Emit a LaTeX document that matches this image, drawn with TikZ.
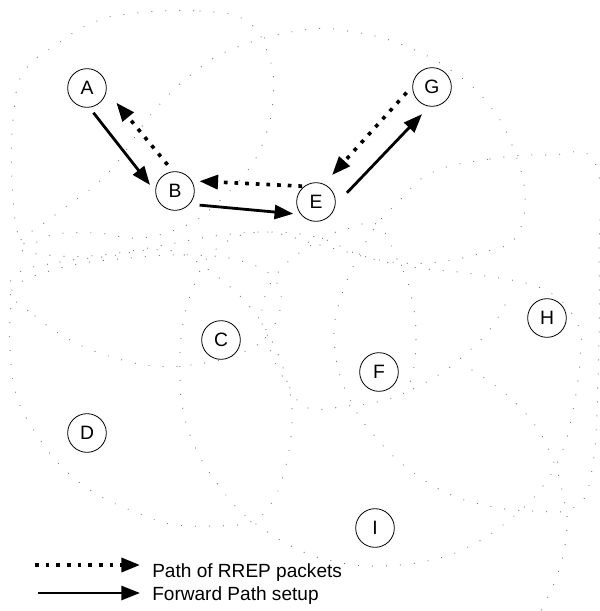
\documentclass[tikz,border=0pt]{standalone}
\usepackage{fontspec}
\setmainfont{Liberation Sans}
\usetikzlibrary{arrows.meta}
\tikzset{
    station/.style={circle, draw, line width=0.6pt, minimum size=29pt,
    	inner sep=0pt, font=\fontsize{14.5}{16}\selectfont}
}
\tikzset{
    fwd/.style={line width=2.1pt, -{Triangle[length=14pt,width=10.5pt]}},
    rrep/.style={line width=2.7pt, dash pattern=on 2.8pt off 5.2pt,
    	-{Triangle[length=14pt,width=10.5pt]}}
}
\tikzset{
	radiorange/.style={black!55, line width=0.9pt, line cap=round,
		dash pattern=on 0pt off 10.5pt},
	keytext/.style={anchor=base west, inner sep=0pt,
		font=\fontsize{14.3}{16}\selectfont}
}

\begin{document}
\begin{tikzpicture}[x=0.75pt, y=-0.75pt]
	\useasboundingbox (0,0) rectangle (600,611);
	% radio ranges
	\begin{scope}
	\clip (0,0) rectangle (600,611);
	\draw[radiorange] plot[smooth cycle, tension=0.7] coordinates {(127,14) (200,11)
		(248,22) (270,60) (273,100) (265,137) (248,170) (215,205) (185,226)
		(140,238) (97,233) (55,234) (22,242) (12,180) (14,110) (25,70) (60,42)
		(90,24)};
	\draw[radiorange] plot[smooth cycle, tension=0.7] coordinates {(18,246) (55,215)
		(108,173) (153,112) (197,70) (240,46) (303,30) (348,31) (403,45) (455,73)
		(490,106) (512,145) (525,195) (516,237) (488,251) (445,261) (403,263)
		(360,255) (320,238) (270,232) (215,236) (165,245) (110,254) (60,256)};
	\draw[radiorange] plot[smooth cycle, tension=0.7] coordinates {(15,275) (60,262)
		(110,256) (150,250) (182,254) (218,277) (250,307) (273,343) (288,385)
		(292,420) (286,465) (272,502) (250,522) (210,526) (170,524) (138,513)
		(98,495) (63,468) (37,435) (17,397) (10,350) (11,305)};
	\draw[radiorange] plot[smooth cycle, tension=0.7] coordinates {(12,290) (35,316)
		(72,341) (112,357) (155,366) (198,364) (235,355) (263,340) (280,310)
		(275,280) (245,262) (195,255) (130,258) (60,268)};
	\draw[radiorange] plot[smooth cycle, tension=0.7] coordinates {(260,232) (320,245)
		(400,265) (480,275) (545,290) (577,323) (580,360) (573,410) (562,452)
		(540,490) (508,521) (472,545) (432,560) (380,566) (337,562) (295,548)
		(247,517) (217,483) (195,447) (183,410) (180,373) (182,330) (193,288)
		(215,250)};
	\draw[radiorange] plot[smooth cycle, tension=0.7] coordinates {(433,172) (490,159)
		(548,155) (595,163) (599,260) (598,380) (592,470) (575,507) (532,511)
		(488,506) (447,493) (410,470) (378,440) (350,400) (335,350) (340,300)
		(370,235) (400,200)};
	\draw[radiorange] plot[smooth cycle, tension=0.7] coordinates {(378,225) (397,259)
		(410,290) (416,340) (408,387) (385,400) (348,406) (308,408) (288,385)
		(270,350) (262,310) (280,270) (320,240) (350,228)};
	\draw[radiorange] plot[smooth, tension=0.7] coordinates {(505,305) (487,333)
		(455,363) (430,380) (405,393)};
	\draw[radiorange] plot[smooth, tension=0.7] coordinates {(472,370) (507,395)
		(537,428) (555,465) (563,495) (567,525) (560,567) (543,607) (535,620)};
	\end{scope}

	\node (A) [station, fill=white] at (87,88) {A};
	\node (B) [station, fill=white] at (175,191) {B};
	\node (E) [station, fill=white] at (316,202) {E};
	\node (G) [station, fill=white] at (432,87) {G};
	\node (C) [station, fill=white] at (221,340) {C};
	\node (F) [station, fill=white] at (379,372) {F};
	\node (H) [station, fill=white] at (547,318) {H};
	\node (D) [station, fill=white] at (87,433) {D};
	\node (I) [station, fill=white] at (375,528) {I};

	\draw (A.-83) edge [fwd, shorten <=4.9pt, shorten >=6.4pt] (B.182);
	\draw (B.-42) edge [fwd, shorten <=7.5pt, shorten >=5.6pt] (E.219);
	\draw (E.-8) edge [fwd, shorten <=12.4pt, shorten >=7.9pt] (G.262);
	\draw (G.178) edge [rrep, shorten <=6.4pt, shorten >=9pt] (E.66);
	\draw (E.127) edge [rrep, shorten <=1.5pt, shorten >=5.6pt] (B.31);
	\draw (B.96) edge [rrep, shorten <=6.4pt, shorten >=11.6pt] (A.-8);

	% key
	\coordinate (k1s) at (35,565); \coordinate (k1e) at (140,565);
	\coordinate (k2s) at (38,593); \coordinate (k2e) at (140,593);
	\draw (k1s) edge [rrep] (k1e);
	\draw (k2s) edge [fwd] (k2e);
	\node (k1) [keytext] at (152,577) {Path of RREP packets};
	\node (k2) [keytext] at (152,600) {Forward Path setup};
\end{tikzpicture}
\end{document}
